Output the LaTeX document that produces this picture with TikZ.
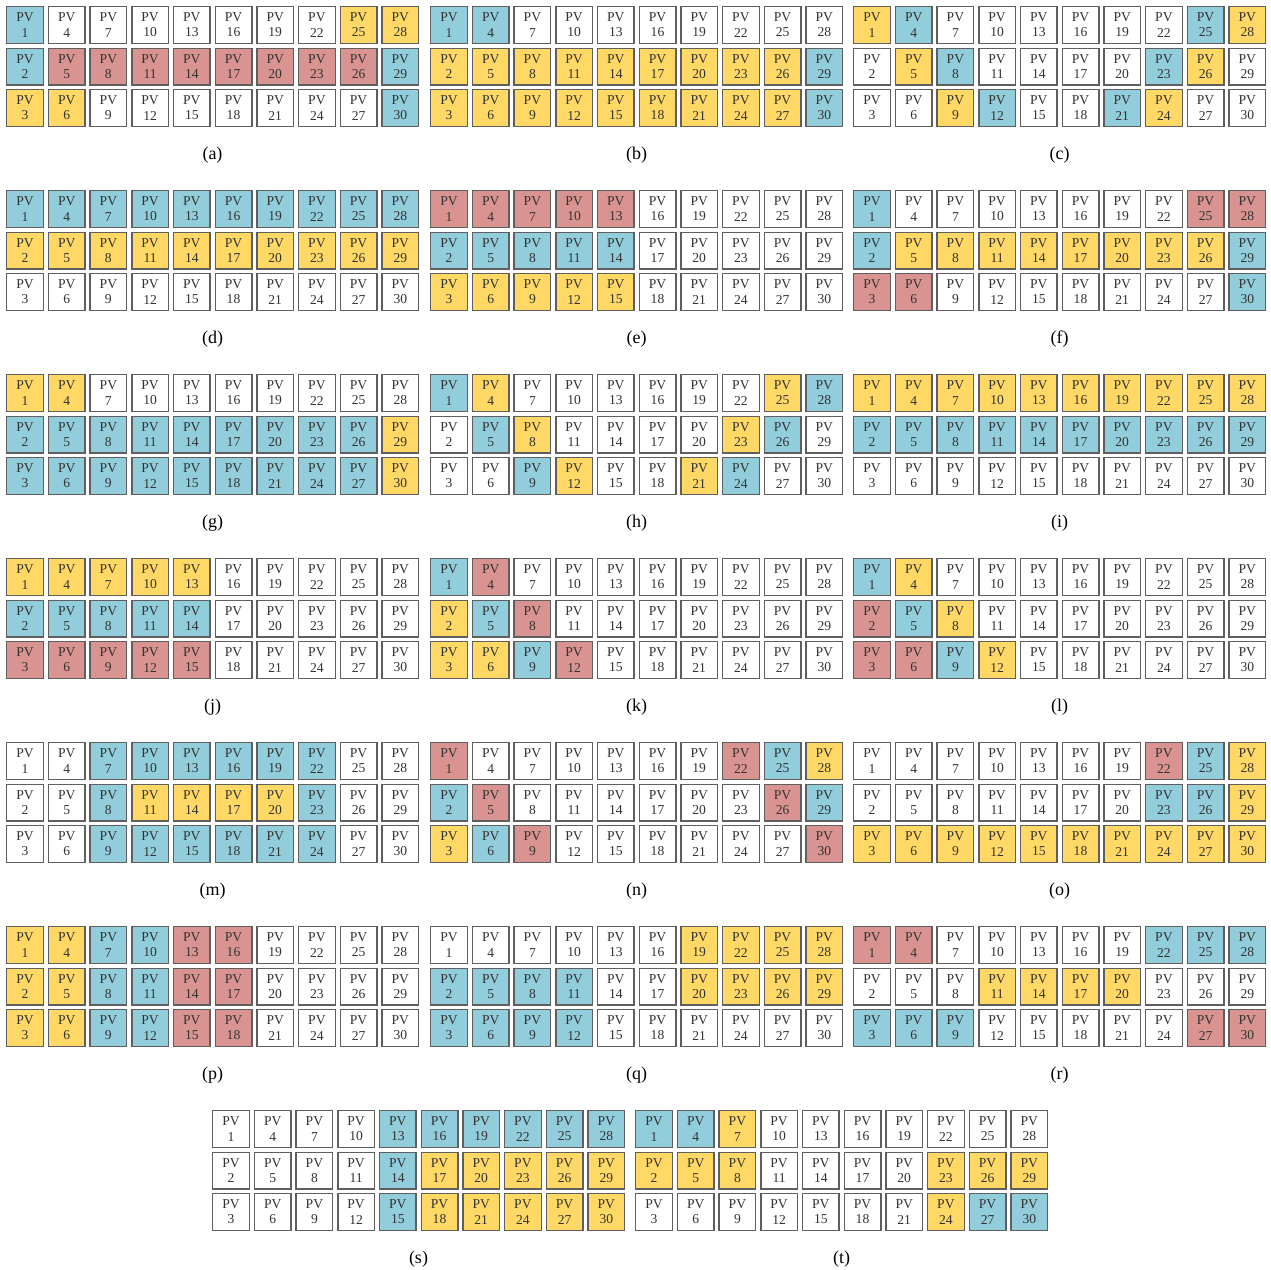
\documentclass[tikz,border=0pt]{standalone}
\usepackage{fontspec}
\setmainfont{Liberation Serif}
\usetikzlibrary{positioning}
\definecolor{pvblue}{RGB}{146,205,220}
\definecolor{pvred}{RGB}{217,148,145}
\definecolor{pvyellow}{RGB}{255,216,102}
\definecolor{pvedge}{RGB}{95,95,95}

% one panel: name, left edge, top edge, 30 cell states (row by row)
\newcommand{\pvpanel}[4]{%
  \foreach \s [count=\k from 0] in {#4} {
    \pgfmathtruncatemacro\col{mod(\k,10)}
    \pgfmathtruncatemacro\row{int(\k/10)}
    \pgfmathtruncatemacro\pv{3*\col+\row+1}
    \node[cell\s] (#1-\pv) at ({#2+19+41.7*\col},{#3+19+41.5*\row}) {PV\\\pv};
  }
  \node[panelLabel] (#1-lab) at ({#2+206.5},{#3+149}) {(#1)};
}

\begin{document}
\begin{tikzpicture}[
  x=0.5pt, y=-0.5pt,
  cell/.style={draw=pvedge, line width=0.7pt, minimum width=18.3pt,
               minimum height=18.3pt, inner sep=0pt, align=center,
               text=black!80, font=\fontsize{6.8}{7.6}\selectfont},
  cellW/.style={cell, fill=white},
  cellB/.style={cell, fill=pvblue},
  cellR/.style={cell, fill=pvred},
  cellY/.style={cell, fill=pvyellow},
  panelLabel/.style={font=\fontsize{9}{10}\selectfont},
]
\useasboundingbox (0,0) rectangle (1271,1270);

% --- row 1 ---
\pvpanel{a}{6}{6}{B,W,W,W,W,W,W,W,Y,Y, B,R,R,R,R,R,R,R,R,B, Y,Y,W,W,W,W,W,W,W,B}
\pvpanel{b}{430}{6}{B,B,W,W,W,W,W,W,W,W, Y,Y,Y,Y,Y,Y,Y,Y,Y,B, Y,Y,Y,Y,Y,Y,Y,Y,Y,B}
\pvpanel{c}{853}{6}{Y,B,W,W,W,W,W,W,B,Y, W,Y,B,W,W,W,W,B,Y,W, W,W,Y,B,W,W,B,Y,W,W}

% --- row 2 ---
\pvpanel{d}{6}{190}{B,B,B,B,B,B,B,B,B,B, Y,Y,Y,Y,Y,Y,Y,Y,Y,Y, W,W,W,W,W,W,W,W,W,W}
\pvpanel{e}{430}{190}{R,R,R,R,R,W,W,W,W,W, B,B,B,B,B,W,W,W,W,W, Y,Y,Y,Y,Y,W,W,W,W,W}
\pvpanel{f}{853}{190}{B,W,W,W,W,W,W,W,R,R, B,Y,Y,Y,Y,Y,Y,Y,Y,B, R,R,W,W,W,W,W,W,W,B}

% --- row 3 ---
\pvpanel{g}{6}{374}{Y,Y,W,W,W,W,W,W,W,W, B,B,B,B,B,B,B,B,B,Y, B,B,B,B,B,B,B,B,B,Y}
\pvpanel{h}{430}{374}{B,Y,W,W,W,W,W,W,Y,B, W,B,Y,W,W,W,W,Y,B,W, W,W,B,Y,W,W,Y,B,W,W}
\pvpanel{i}{853}{374}{Y,Y,Y,Y,Y,Y,Y,Y,Y,Y, B,B,B,B,B,B,B,B,B,B, W,W,W,W,W,W,W,W,W,W}

% --- row 4 ---
\pvpanel{j}{6}{558}{Y,Y,Y,Y,Y,W,W,W,W,W, B,B,B,B,B,W,W,W,W,W, R,R,R,R,R,W,W,W,W,W}
\pvpanel{k}{430}{558}{B,R,W,W,W,W,W,W,W,W, Y,B,R,W,W,W,W,W,W,W, Y,Y,B,R,W,W,W,W,W,W}
\pvpanel{l}{853}{558}{B,Y,W,W,W,W,W,W,W,W, R,B,Y,W,W,W,W,W,W,W, R,R,B,Y,W,W,W,W,W,W}

% --- row 5 ---
\pvpanel{m}{6}{742}{W,W,B,B,B,B,B,B,W,W, W,W,B,Y,Y,Y,Y,B,W,W, W,W,B,B,B,B,B,B,W,W}
\pvpanel{n}{430}{742}{R,W,W,W,W,W,W,R,B,Y, B,R,W,W,W,W,W,W,R,B, Y,B,R,W,W,W,W,W,W,R}
\pvpanel{o}{853}{742}{W,W,W,W,W,W,W,R,B,Y, W,W,W,W,W,W,W,B,B,Y, Y,Y,Y,Y,Y,Y,Y,Y,Y,Y}

% --- row 6 ---
\pvpanel{p}{6}{926}{Y,Y,B,B,R,R,W,W,W,W, Y,Y,B,B,R,R,W,W,W,W, Y,Y,B,B,R,R,W,W,W,W}
\pvpanel{q}{430}{926}{W,W,W,W,W,W,Y,Y,Y,Y, B,B,B,B,W,W,Y,Y,Y,Y, B,B,B,B,W,W,W,W,W,W}
\pvpanel{r}{853}{926}{R,R,W,W,W,W,W,B,B,B, W,W,W,Y,Y,Y,Y,W,W,W, B,B,B,W,W,W,W,W,R,R}

% --- row 7 ---
\pvpanel{s}{212}{1110}{W,W,W,W,B,B,B,B,B,B, W,W,W,W,B,Y,Y,Y,Y,Y, W,W,W,W,B,Y,Y,Y,Y,Y}
\pvpanel{t}{635}{1110}{B,B,Y,W,W,W,W,W,W,W, Y,Y,Y,W,W,W,W,Y,Y,Y, W,W,W,W,W,W,W,Y,B,B}

\end{tikzpicture}
\end{document}
